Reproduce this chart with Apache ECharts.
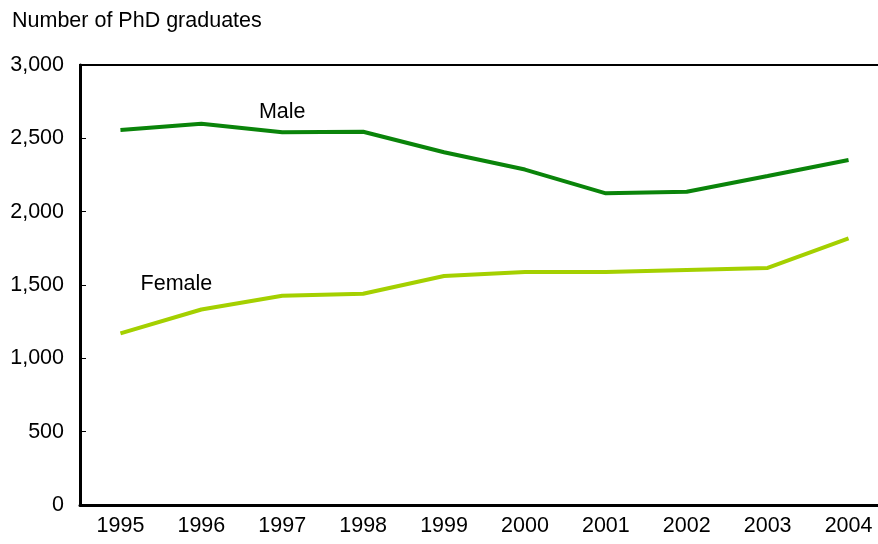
<!DOCTYPE html>
<html>
<head>
<meta charset="utf-8">
<script src="https://cdn.jsdelivr.net/npm/echarts@6/dist/echarts.min.js"></script>
<style>html,body{margin:0;padding:0;background:#fff;}#c{width:878px;height:544px;}</style>
</head>
<body>
<div id="c"></div>
<script>
const years = ['1995','1996','1997','1998','1999','2000','2001','2002','2003','2004'];
const male = [2557, 2600, 2541, 2545, 2405, 2287, 2125, 2136, 2243, 2352];
const female = [1170, 1333, 1427, 1440, 1561, 1589, 1588, 1602, 1616, 1818];
const yTicks = [0, 500, 1000, 1500, 2000, 2500, 3000];
const font = '"Liberation Sans", Arial, Helvetica, sans-serif';
const fs = 21.5;

const chart = echarts.init(document.getElementById('c'), null, {renderer: 'canvas'});
const maleData = male.map((v, i) => i === 2 ? {value: v, label: {show: true, formatter: 'Male', position: 'top', offset: [0, -4], fontSize: fs, color: '#000', fontFamily: font}} : v);
const femaleData = female.map((v, i) => i === 0 ? {value: v, label: {show: true, formatter: 'Female', position: 'top', offset: [56, -33], fontSize: fs, color: '#000', fontFamily: font}} : v);
chart.setOption({
  animation: false,
  title: {text: 'Number of PhD graduates', left: 7, top: 5, textStyle: {fontSize: fs, fontWeight: 'normal', color: '#000', fontFamily: font}},
  grid: {left: 80, top: 65, width: 809, height: 440, outerBoundsMode: 'none', containLabel: false, show: true, borderColor: '#000', borderWidth: 2, backgroundColor: 'transparent'},
  xAxis: {
    type: 'category', data: years, boundaryGap: true,
    axisLine: {lineStyle: {color: '#000', width: 3}},
    axisTick: {inside: true, length: 6, lineStyle: {color: '#000', width: 1}},
    axisLabel: {color: '#000', fontSize: fs, fontFamily: font, margin: 10}
  },
  yAxis: {
    type: 'value', min: yTicks[0], max: yTicks[yTicks.length - 1], interval: 500,
    axisLine: {show: true, lineStyle: {color: '#000', width: 3}},
    axisTick: {show: true, inside: true, length: 6, lineStyle: {color: '#000', width: 1}},
    splitLine: {show: false},
    axisLabel: {color: '#000', fontSize: fs, fontFamily: font, margin: 16, formatter: v => v.toLocaleString('en-US')}
  },
  series: [
    {name: 'Male', type: 'line', data: maleData, symbol: 'circle', symbolSize: 0, showSymbol: true, lineStyle: {color: '#0a840a', width: 4}, itemStyle: {color: '#0a840a'}},
    {name: 'Female', type: 'line', data: femaleData, symbol: 'circle', symbolSize: 0, showSymbol: true, lineStyle: {color: '#a4d000', width: 4}, itemStyle: {color: '#a4d000'}}
  ]
});
</script>
</body>
</html>
